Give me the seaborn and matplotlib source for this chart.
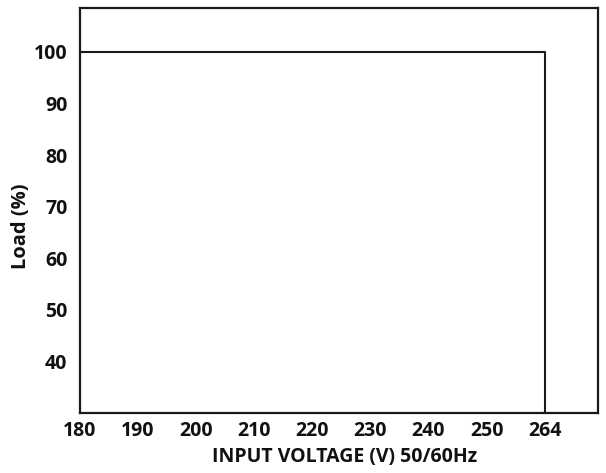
import matplotlib
matplotlib.use("Agg")
import matplotlib.pyplot as plt
import seaborn as sns

# tick labels on the voltage axis (drawn evenly spaced, like the original)
volt_ticks = ["180", "190", "200", "210", "220", "230", "240", "250", "264"]
load_ticks = [40, 50, 60, 70, 80, 90, 100]

# derating curve: full load up to 264 V, then drops off
curve_volt = ["180", "264", "264"]
curve_load = [100, 100, 30]

sns.set_theme(style="white")
plt.rcParams["font.family"] = ["Open Sans", "DejaVu Sans"]
plt.rcParams["font.weight"] = "bold"
plt.rcParams.update({
    "text.color": "#111111",
    "axes.labelcolor": "#111111",
    "xtick.color": "#111111",
    "ytick.color": "#111111",
})

fig = plt.figure(figsize=(6.06, 4.73), dpi=100)
ax = fig.add_axes([0.132, 0.127, 0.855, 0.856])

# map each voltage label to its slot on the axis
curve_x = [volt_ticks.index(v) for v in curve_volt]

sns.lineplot(x=curve_x, y=curve_load, sort=False, estimator=None,
             color="#1a1a1a", linewidth=1.5, ax=ax)

ax.set_xlim(0, 8.92)
ax.set_ylim(30, 108.5)
ax.set_xticks(range(len(volt_ticks)))
ax.set_xticklabels(volt_ticks)
ax.set_yticks(load_ticks)
ax.set_yticklabels([str(v) for v in load_ticks])

ax.tick_params(axis="x", length=0, pad=6, labelsize=14)
ax.tick_params(axis="y", length=0, pad=9, labelsize=14)
for lab in ax.get_xticklabels() + ax.get_yticklabels():
    lab.set_fontweight("bold")

for side in ["left", "right", "top", "bottom"]:
    ax.spines[side].set_color("#1a1a1a")
    ax.spines[side].set_linewidth(1.6)

ax.set_xlabel("INPUT VOLTAGE (V) 50/60Hz", fontsize=14, fontweight="bold")
ax.set_ylabel("Load (%)", fontsize=14.5, fontweight="bold")
ax.yaxis.set_label_coords(-0.095, 0.46)
ax.xaxis.set_label_coords(0.51, -0.085)

fig.savefig("out.png", dpi=100, facecolor="white")
